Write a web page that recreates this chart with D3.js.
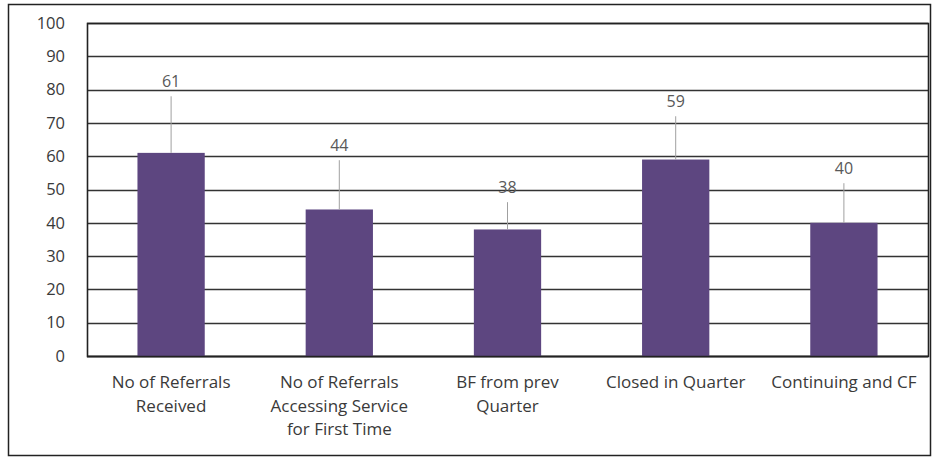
<!DOCTYPE html>
<html>
<head>
<meta charset="utf-8">
<script src="https://cdn.jsdelivr.net/npm/d3@7/dist/d3.min.js"></script>
<style>
  html, body { margin: 0; padding: 0; background: #fff; }
  svg { display: block; }
  text { font-family: "Open Sans", Lato, sans-serif; }
</style>
</head>
<body>
<svg id="chart" width="932" height="458"></svg>
<script>
// ---- data ----
const categories = [
  ["No of Referrals", "Received"],
  ["No of Referrals", "Accessing Service", "for First Time"],
  ["BF from prev", "Quarter"],
  ["Closed in Quarter"],
  ["Continuing and CF"]
];
const values = [61, 44, 38, 59, 40];
const yTicks = [0, 10, 20, 30, 40, 50, 60, 70, 80, 90, 100];

// ---- layout (styles / positions) ----
const W = 932, H = 458;
const margin = { left: 87, right: 4, top: 23, bottom: 102 };
// data label placements in value units (labels were moved above bars with leader lines)
const labelLift = [21.5, 19.3, 12.7, 17.5, 16.4];
const FONT = "'Open Sans', Lato, sans-serif";

const svg = d3.select("#chart");

// outer border
svg.append("rect")
  .attr("x", 8.5).attr("y", 4.5)
  .attr("width", W - 10).attr("height", H - 7)
  .attr("fill", "none").attr("stroke", "#222").attr("stroke-width", 1.5);

const x = d3.scaleBand()
  .domain(d3.range(values.length))
  .range([margin.left, W - margin.right])
  .paddingInner(0.6).paddingOuter(0.3);

const y = d3.scaleLinear()
  .domain([0, 100])
  .range([H - margin.bottom, margin.top]);

// gridlines
svg.append("g").selectAll("line")
  .data(yTicks)
  .join("line")
  .attr("x1", margin.left).attr("x2", W - margin.right)
  .attr("y1", d => Math.round(y(d)) + 0.5).attr("y2", d => Math.round(y(d)) + 0.5)
  .attr("stroke", "#333").attr("stroke-width", 1.4);

// plot border
svg.append("rect")
  .attr("x", margin.left + 0.5).attr("y", Math.round(y(100)) + 0.5)
  .attr("width", W - margin.right - margin.left)
  .attr("height", Math.round(y(0)) - Math.round(y(100)))
  .attr("fill", "none").attr("stroke", "#222").attr("stroke-width", 1.6);

// y axis labels
const yAxis = d3.axisLeft(y).tickValues(yTicks).tickSize(0).tickPadding(22);
const gy = svg.append("g").attr("transform", `translate(${margin.left},0)`).call(yAxis);
gy.select(".domain").remove();
gy.selectAll("text")
  .attr("font-size", 16.5).attr("fill", "#3a3a3a")
  .style("font-family", FONT);

// bars
svg.append("g").selectAll("rect")
  .data(values)
  .join("rect")
  .attr("x", (d, i) => x(i))
  .attr("width", x.bandwidth())
  .attr("y", d => y(d))
  .attr("height", d => y(0) - y(d))
  .attr("fill", "#5d4680");

// bottom axis line redraw on top
svg.append("line")
  .attr("x1", margin.left).attr("x2", W - margin.right)
  .attr("y1", Math.round(y(0)) + 0.5).attr("y2", Math.round(y(0)) + 0.5)
  .attr("stroke", "#222").attr("stroke-width", 1.6);

// leader lines
svg.append("g").selectAll("line")
  .data(values)
  .join("line")
  .attr("x1", (d, i) => x(i) + x.bandwidth() / 2)
  .attr("x2", (d, i) => x(i) + x.bandwidth() / 2)
  .attr("y1", (d, i) => y(d + labelLift[i]) + 15)
  .attr("y2", d => y(d))
  .attr("stroke", "#a0a0a0").attr("stroke-width", 1);

// data labels
svg.append("g").selectAll("text")
  .data(values)
  .join("text")
  .attr("x", (d, i) => x(i) + x.bandwidth() / 2)
  .attr("y", (d, i) => y(d + labelLift[i]))
  .attr("dy", "0.35em")
  .attr("text-anchor", "middle")
  .attr("font-size", 16)
  .attr("fill", "#595959")
  .text(d => d);

// category labels
const gx = svg.append("g");
categories.forEach((lines, i) => {
  const t = gx.append("text")
    .attr("x", x(i) + x.bandwidth() / 2)
    .attr("y", y(0) + 32)
    .attr("text-anchor", "middle")
    .attr("font-size", 17)
    .attr("fill", "#3a3a3a");
  lines.forEach((ln, k) => {
    t.append("tspan")
      .attr("x", x(i) + x.bandwidth() / 2)
      .attr("dy", k === 0 ? 0 : 23.5)
      .text(ln);
  });
});
</script>
</body>
</html>
